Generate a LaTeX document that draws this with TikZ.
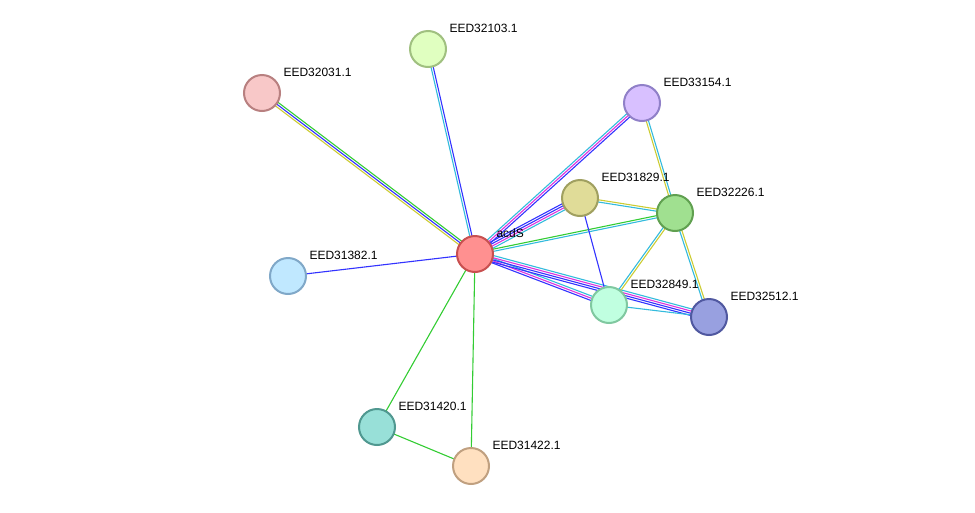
\documentclass[tikz,border=0pt]{standalone}
\usepackage{fontspec}
\setmainfont{Liberation Sans}
\usetikzlibrary{calc,backgrounds}

\definecolor{lblue}{HTML}{3333FF}
\definecolor{lcyan}{HTML}{33BBDD}
\definecolor{lmag}{HTML}{DD33DD}
\definecolor{lgreen}{HTML}{33CC33}
\definecolor{lyel}{HTML}{CCCC33}
% node fills and rims
\definecolor{fA}{HTML}{FF9090}\definecolor{dA}{HTML}{C85050}
\definecolor{fB}{HTML}{E0FFC0}\definecolor{dB}{HTML}{A0C080}
\definecolor{fC}{HTML}{F8C8C8}\definecolor{dC}{HTML}{B88080}
\definecolor{fD}{HTML}{D8C0FF}\definecolor{dD}{HTML}{9080C8}
\definecolor{fE}{HTML}{E0DC98}\definecolor{dE}{HTML}{A0A060}
\definecolor{fF}{HTML}{A0E090}\definecolor{dF}{HTML}{60A050}
\definecolor{fG}{HTML}{C0E8FF}\definecolor{dG}{HTML}{80A8C8}
\definecolor{fH}{HTML}{C0FFE0}\definecolor{dH}{HTML}{80C8A0}
\definecolor{fI}{HTML}{98A0E0}\definecolor{dI}{HTML}{5058A0}
\definecolor{fJ}{HTML}{98E0D8}\definecolor{dJ}{HTML}{509890}
\definecolor{fK}{HTML}{FFE0C0}\definecolor{dK}{HTML}{C0A080}

\tikzset{
  prot/.style={circle, draw=d#1, fill=f#1, line width=2pt, minimum size=36pt, inner sep=0pt},
  lab/.style={font=\fontsize{12}{14}\selectfont, anchor=base west},
}

% edge drawn as parallel coloured lines
\newcommand\lnk[4]{%
  \foreach \c [count=\i] in {#4} {
    \pgfmathsetmacro\off{(\i-(#3+1)/2)*2.2}
    \draw[\c, line width=1.1pt] ($(#1)!\off pt!90:(#2)$) -- ($(#2)!\off pt!-90:(#1)$);
  }}

\begin{document}
\begin{tikzpicture}[x=1pt, y=-1pt]
\useasboundingbox (0,0) rectangle (975,512);

\node[prot=A] (acdS) at (475,254) {};
\node[prot=B] (p103) at (428,49) {};
\node[prot=C] (p031) at (262,93) {};
\node[prot=D] (p154) at (642,103) {};
\node[prot=E] (p829) at (580,198) {};
\node[prot=F] (p226) at (675,213) {};
\node[prot=G] (p382) at (288,276) {};
\node[prot=H] (p849) at (609,305) {};
\node[prot=I] (p512) at (709,317) {};
\node[prot=J] (p420) at (377,427) {};
\node[prot=K] (p422) at (471,466) {};

% labels
\node[lab] at ($(acdS)+(18,-17)$) {acdS};
\node[lab] at ($(p103)+(18,-17)$) {EED32103.1};
\node[lab] at ($(p031)+(18,-17)$) {EED32031.1};
\node[lab] at ($(p154)+(18,-17)$) {EED33154.1};
\node[lab] at ($(p829)+(18,-17)$) {EED31829.1};
\node[lab] at ($(p226)+(18,-17)$) {EED32226.1};
\node[lab] at ($(p382)+(18,-17)$) {EED31382.1};
\node[lab] at ($(p849)+(18,-17)$) {EED32849.1};
\node[lab] at ($(p512)+(18,-17)$) {EED32512.1};
\node[lab] at ($(p420)+(18,-17)$) {EED31420.1};
\node[lab] at ($(p422)+(18,-17)$) {EED31422.1};

\begin{scope}[on background layer]
\lnk{acdS}{p103}{2}{lblue,lcyan}
\lnk{acdS}{p031}{3}{lgreen,lblue,lyel}
\lnk{acdS}{p382}{1}{lblue}
\lnk{acdS}{p154}{3}{lblue,lmag,lcyan}
\lnk{acdS}{p829}{4}{lcyan,lmag,lblue,lblue}
\lnk{acdS}{p226}{2}{lcyan,lgreen}
\lnk{acdS}{p849}{3}{lblue,lmag,lcyan}
\lnk{acdS}{p512}{4}{lblue,lblue,lmag,lcyan}
\lnk{acdS}{p420}{1}{lgreen}
\lnk{acdS}{p422}{1}{lgreen}
\lnk{p420}{p422}{1}{lgreen}
\lnk{p154}{p226}{2}{lyel,lcyan}
\lnk{p829}{p226}{2}{lcyan,lyel}
\lnk{p829}{p849}{1}{lblue}
\lnk{p226}{p849}{2}{lcyan,lyel}
\lnk{p226}{p512}{2}{lcyan,lyel}
\lnk{p849}{p512}{1}{lcyan}
\end{scope}
\end{tikzpicture}
\end{document}
